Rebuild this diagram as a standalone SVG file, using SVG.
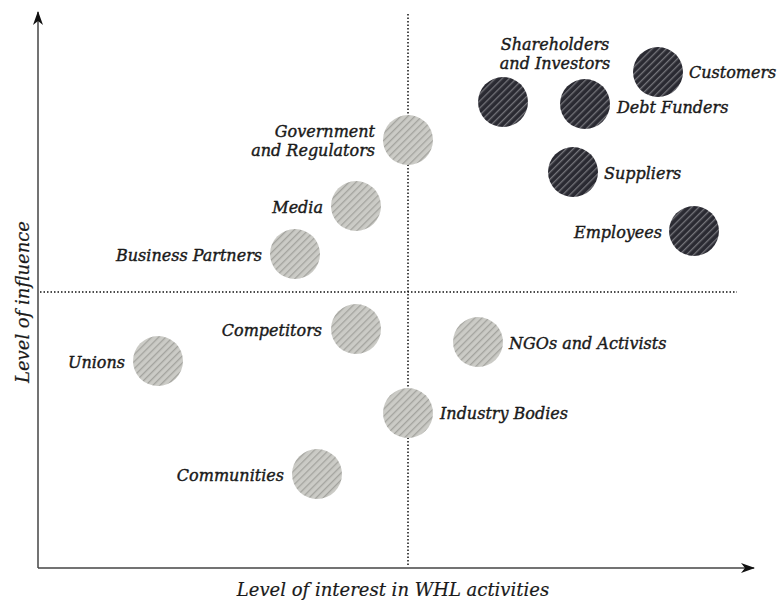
<svg xmlns="http://www.w3.org/2000/svg" width="779" height="603" viewBox="0 0 779 603">
<defs>
<pattern id="hl" width="5" height="5" patternUnits="userSpaceOnUse" patternTransform="rotate(45)">
<rect width="5" height="5" fill="#cbcbc6"/>
<rect width="1.3" height="5" fill="#a3a39e"/>
</pattern>
<pattern id="hd" width="5" height="5" patternUnits="userSpaceOnUse" patternTransform="rotate(45)">
<rect width="5" height="5" fill="#2a2a32"/>
<rect width="1.3" height="5" fill="#74747a"/>
</pattern>
<marker id="ah" markerWidth="14" markerHeight="10" refX="13" refY="5" orient="auto" markerUnits="userSpaceOnUse">
<path d="M0,0 L14,5 L0,10 L4,5 Z" fill="#111"/>
</marker>
</defs>
<style>
text{font-family:"DejaVu Serif","Liberation Serif",serif;font-style:italic;font-size:16px;fill:#1a1a1a;stroke:#1a1a1a;stroke-width:0.4}
.axt{font-size:18px;stroke-width:0.2}
.l{fill:url(#hl)}
.d{fill:url(#hd)}
.dot{stroke:#111;stroke-width:1.5;stroke-dasharray:1.5 2;fill:none}
.ax{stroke:#444;stroke-width:1.5;fill:none}
.r{text-anchor:end}
</style>
<g id="connectors">
<line class="dot" x1="408" y1="14" x2="408" y2="567"/>
<line class="dot" x1="40" y1="292" x2="737" y2="292"/>
<line class="ax" x1="38" y1="568" x2="38" y2="12" marker-end="url(#ah)"/>
<line class="ax" x1="38" y1="568" x2="754" y2="568" marker-end="url(#ah)"/>
</g>
<g id="axis-labels">
<text class="axt" x="393" y="596" text-anchor="middle">Level of interest in WHL activities</text>
<text class="axt" transform="translate(29,302) rotate(-90)" text-anchor="middle">Level of influence</text>
</g>
<g id="shareholders"><circle class="d" cx="503" cy="102" r="25"/><text x="555" y="50" text-anchor="middle">Shareholders</text><text x="555" y="69" text-anchor="middle">and Investors</text></g>
<g id="customers"><circle class="d" cx="658" cy="72" r="25"/><text x="689" y="78">Customers</text></g>
<g id="debt-funders"><circle class="d" cx="585" cy="104" r="25"/><text x="617" y="113">Debt Funders</text></g>
<g id="suppliers"><circle class="d" cx="573" cy="172" r="25"/><text x="604" y="179">Suppliers</text></g>
<g id="employees"><circle class="d" cx="694" cy="231" r="25"/><text class="r" x="662" y="238">Employees</text></g>
<g id="government"><circle class="l" cx="408" cy="140" r="25"/><text class="r" x="375" y="137">Government</text><text class="r" x="375" y="156">and Regulators</text></g>
<g id="media"><circle class="l" cx="356" cy="206" r="25"/><text class="r" x="323" y="213">Media</text></g>
<g id="business-partners"><circle class="l" cx="295" cy="254" r="25"/><text class="r" x="262" y="261">Business Partners</text></g>
<g id="competitors"><circle class="l" cx="356" cy="329" r="25"/><text class="r" x="322" y="336">Competitors</text></g>
<g id="unions"><circle class="l" cx="158" cy="361" r="25"/><text class="r" x="125" y="368">Unions</text></g>
<g id="ngos"><circle class="l" cx="478" cy="342" r="25"/><text x="509" y="349">NGOs and Activists</text></g>
<g id="industry-bodies"><circle class="l" cx="408" cy="413" r="25"/><text x="440" y="419">Industry Bodies</text></g>
<g id="communities"><circle class="l" cx="317" cy="474" r="25"/><text class="r" x="284" y="481">Communities</text></g>
</svg>
